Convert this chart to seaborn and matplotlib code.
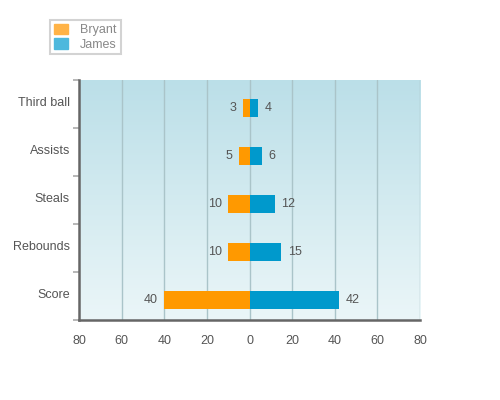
import matplotlib
matplotlib.use("Agg")
import matplotlib.pyplot as plt
import matplotlib.patches as mpatches
from matplotlib.colors import LinearSegmentedColormap
import seaborn as sns
import numpy as np
import pandas as pd

categories = ["Third ball", "Assists", "Steals", "Rebounds", "Score"]
bryant = [3, 5, 10, 10, 40]
james = [4, 6, 12, 15, 42]
tick_values = [-80, -60, -40, -20, 0, 20, 40, 60, 80]

df = pd.DataFrame({
    "cat": categories * 2,
    "value": [-v for v in bryant] + james,
    "player": ["Bryant"] * len(categories) + ["James"] * len(categories),
})

sns.set_theme(style="white")
plt.rcParams['font.family'] = ['Liberation Sans', 'DejaVu Sans']

fig = plt.figure(figsize=(5, 4), dpi=100)
ax = fig.add_axes([0.158, 0.2, 0.682, 0.6])

n = len(categories)
d = -4 / 48.0  # bars sit slightly below band centre
y0, y1 = n - 0.5 + d, -0.5 + d

# gradient background
grad = LinearSegmentedColormap.from_list("bg", ["#ebf6f8", "#bbdfe8"])
ax.imshow(np.linspace(0, 1, 256).reshape(-1, 1), cmap=grad, aspect="auto",
          extent=[-80, 80, y0, y1], origin="lower", zorder=0)

sns.barplot(data=df, y="cat", x="value", hue="player", dodge=False,
            palette={"Bryant": "#ff9900", "James": "#0099cc"},
            width=0.38, orient="h", ax=ax, legend=False, zorder=3,
            order=categories, saturation=1, linewidth=0, edgecolor="none")

ax.set_xlim(-80, 80)
ax.set_ylim(y0, y1)
ax.set_xticks(tick_values)
ax.set_xticklabels([str(abs(v)) for v in tick_values])
for v in tick_values[1:]:
    ax.axvline(v, color="#aac4c9", lw=1, zorder=1)

ax.set_yticks(np.arange(n) - 0.125)
ax.set_yticklabels(categories)
ax.set_yticks(np.arange(-0.5, n, 1) + d, minor=True)
ax.tick_params(axis="y", which="major", length=0, pad=6.5, labelsize=9, labelcolor="#555555")
ax.tick_params(axis="y", which="minor", length=4, width=1.2, color="#aaaaaa", left=True)
ax.tick_params(axis="x", length=0, pad=11, labelsize=9, labelcolor="#555555")
ax.set_xlabel("")
ax.set_ylabel("")

for s in ["top", "right"]:
    ax.spines[s].set_visible(False)
for s in ["left", "bottom"]:
    ax.spines[s].set_color("#666666")
    ax.spines[s].set_linewidth(1.8)
    ax.spines[s].set_zorder(5)

for i, (b, j) in enumerate(zip(bryant, james)):
    ax.text(-b - 3, i, str(b), ha="right", va="center", fontsize=9, color="#555555", zorder=6)
    ax.text(j + 3, i, str(j), ha="left", va="center", fontsize=9, color="#555555", zorder=6)

handles = [mpatches.Patch(color="#ffb347", label="Bryant"),
           mpatches.Patch(color="#4db8dd", label="James")]
leg = fig.legend(handles=handles, loc="upper left", bbox_to_anchor=(0.1, 0.95),
                 frameon=True, fontsize=9, handlelength=1.1, handleheight=0.9,
                 borderpad=0.3, labelspacing=0.15, handletextpad=1.0, fancybox=False,
                 borderaxespad=0)
leg.get_frame().set_edgecolor("#c8c8c8")
leg.get_frame().set_linewidth(1.5)
for t in leg.get_texts():
    t.set_color("#888888")

fig.savefig("out.png", dpi=100)
